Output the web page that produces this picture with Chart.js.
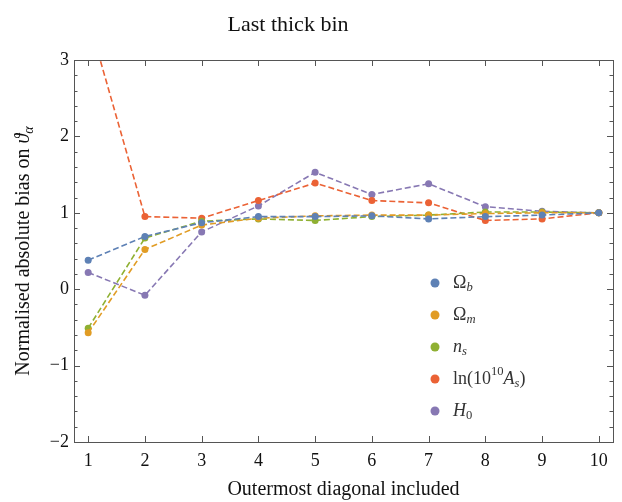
<!DOCTYPE html>
<html>
<head>
<meta charset="utf-8">
<script src="https://cdn.jsdelivr.net/npm/chart.js@4"></script>
<style>
  html, body { margin: 0; padding: 0; background: #fff; }
  #wrap { width: 622px; height: 502px; }
</style>
</head>
<body>
<div id="wrap"><canvas id="biasChart"></canvas></div>
<script>
// values
const diagonals = [1, 2, 3, 4, 5, 6, 7, 8, 9, 10];
const omegaB = [0.38, 0.69, 0.87, 0.95, 0.95, 0.96, 0.92, 0.95, 0.97, 1.0];
const omegaM = [-0.57, 0.52, 0.84, 0.93, 0.96, 0.97, 0.97, 0.99, 1.0, 1.0];
const nS = [-0.51, 0.67, 0.89, 0.92, 0.90, 0.95, 0.97, 1.01, 1.01, 1.0];
const lnAs = [3.55, 0.95, 0.93, 1.16, 1.39, 1.16, 1.13, 0.90, 0.92, 1.0];
const h0 = [0.22, -0.08, 0.75, 1.09, 1.53, 1.24, 1.38, 1.08, 1.02, 1.0];
const seriesLabels = ["$Ω_{b}$", "$Ω_{m}$", "$n_{s}$", "$ln(10^{10}A_{s})$", "$H_{0}$"];
const yTicks = [-2, -1, 0, 1, 2, 3];

const colors = ["#5e81b5", "#e19c24", "#8fb032", "#eb6235", "#8778b3"];
const FONT = "'Liberation Serif', 'DejaVu Serif', serif";

// tiny math-ish text renderer: $...$ = math, _{..} sub, ^{..} sup
function mathRuns(str, size) {
  const runs = [];
  const parts = str.split("$");
  parts.forEach((part, i) => {
    if (!part) return;
    if (i % 2 === 0) { runs.push({ t: part, it: false, size: size, dy: 0 }); return; }
    const re = /([_^])\{([^}]*)\}|([^_^]+)/g;
    let m;
    while ((m = re.exec(part))) {
      let txt, sz = size, dy = 0;
      if (m[1]) { txt = m[2]; sz = size * 0.7; dy = m[1] === "_" ? size * 0.28 : -size * 0.42; }
      else txt = m[3];
      const toks = txt.match(/ln|[A-Za-zα-ωϑ]|[^A-Za-zα-ωϑ]+/g) || [];
      toks.forEach(tk => runs.push({ t: tk, it: tk !== "ln" && /^[A-Za-zα-ωϑ]$/.test(tk), size: sz, dy: dy }));
    }
  });
  return runs;
}
function drawMath(ctx, str, x, y, size, align) {
  const runs = mathRuns(str, size);
  let w = 0;
  runs.forEach(r => {
    ctx.font = (r.it ? "italic " : "") + r.size + "px " + FONT;
    r.w = ctx.measureText(r.t).width;
    w += r.w;
  });
  let cx = align === "center" ? x - w / 2 : x;
  ctx.textAlign = "left";
  ctx.textBaseline = "middle";
  runs.forEach(r => {
    ctx.font = (r.it ? "italic " : "") + r.size + "px " + FONT;
    ctx.fillText(r.t, cx, y + r.dy);
    cx += r.w;
  });
}

const framePlugin = {
  id: "frame",
  afterDraw(chart) {
    const ctx = chart.ctx;
    const a = chart.chartArea;
    const xs = chart.scales.x, ys = chart.scales.y;
    ctx.save();
    ctx.strokeStyle = "#555";
    ctx.lineWidth = 1;
    ctx.strokeRect(a.left + 0.5, a.top + 0.5, a.right - a.left, a.bottom - a.top);
    ctx.beginPath();
    diagonals.forEach(v => {
      const px = Math.round(xs.getPixelForValue(v)) + 0.5;
      ctx.moveTo(px, a.bottom); ctx.lineTo(px, a.bottom - 6);
      ctx.moveTo(px, a.top); ctx.lineTo(px, a.top + 6);
    });
    for (let k = 0; k <= 25; k++) {
      const v = -2 + k * 0.2;
      const len = k % 5 === 0 ? 6 : 3.5;
      const py = Math.round(ys.getPixelForValue(v)) + 0.5;
      ctx.moveTo(a.left, py); ctx.lineTo(a.left + len, py);
      ctx.moveTo(a.right, py); ctx.lineTo(a.right - len, py);
    }
    ctx.stroke();

    ctx.fillStyle = "#111";
    ctx.font = "22px " + FONT;
    ctx.textAlign = "center";
    ctx.textBaseline = "alphabetic";
    ctx.fillText("Last thick bin", 288, 31);

    ctx.translate(24, (a.top + a.bottom) / 2);
    ctx.rotate(-Math.PI / 2);
    drawMath(ctx, "Normalised absolute bias on $ϑ_{α}$", 0, 0, 20, "center");
    ctx.restore();

    // legend
    ctx.save();
    chart.data.datasets.forEach((ds, i) => {
      const ly = a.top + 223 + i * 32;
      const lx = a.left + 361;
      ctx.fillStyle = ds.borderColor;
      ctx.beginPath();
      ctx.arc(lx, ly, 4.5, 0, Math.PI * 2);
      ctx.fill();
      ctx.fillStyle = "#333";
      drawMath(ctx, ds.label, lx + 18, ly, 18, "left");
    });
    ctx.restore();
  }
};

const datasets = [omegaB, omegaM, nS, lnAs, h0].map((vals, i) => ({
  label: seriesLabels[i],
  data: vals.map((v, j) => ({ x: diagonals[j], y: v })),
  borderColor: colors[i],
  backgroundColor: colors[i],
  pointBackgroundColor: colors[i],
  borderWidth: 1.6,
  borderDash: [6, 3],
  pointRadius: 3.5,
  pointBorderWidth: 0,
  tension: 0
}));

new Chart(document.getElementById("biasChart"), {
  type: "line",
  data: { datasets: datasets },
  plugins: [framePlugin],
  options: {
    responsive: true,
    maintainAspectRatio: false,
    animation: false,
    layout: { padding: { top: 60, right: 9, left: 0, bottom: 0 } },
    plugins: { legend: { display: false }, tooltip: { enabled: false } },
    scales: {
      x: {
        type: "linear",
        min: 0.75,
        max: 10.25,
        afterBuildTicks: s => { s.ticks = diagonals.map(v => ({ value: v })); },
        afterFit: s => { s.height = 60; },
        grid: { display: false, drawTicks: false, tickLength: 0 },
        border: { display: false },
        ticks: { color: "#111", font: { family: FONT, size: 18 }, padding: 8, maxRotation: 0 },
        title: { display: true, text: "Outermost diagonal included", color: "#111",
                 font: { family: FONT, size: 20 }, padding: { top: 0, bottom: 0 } }
      },
      y: {
        min: -2,
        max: 3,
        afterBuildTicks: s => { s.ticks = yTicks.map(v => ({ value: v })); },
        afterFit: s => { s.width = 74; },
        grid: { display: false, drawTicks: false, tickLength: 0 },
        border: { display: false },
        ticks: { color: "#111", font: { family: FONT, size: 18 }, padding: 5,
                 callback: v => String(v).replace("-", "\u2212") }
      }
    }
  }
});
</script>
</body>
</html>
